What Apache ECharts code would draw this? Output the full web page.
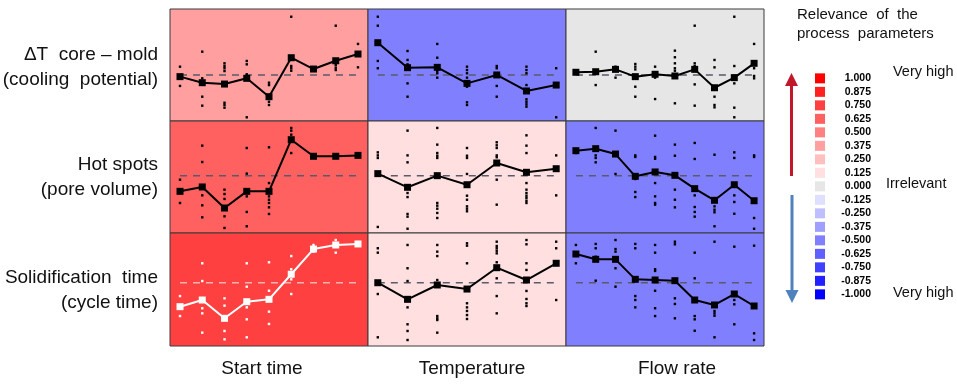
<!DOCTYPE html>
<html><head><meta charset="utf-8">
<script src="https://cdn.jsdelivr.net/npm/echarts@6/dist/echarts.min.js"></script>
<style>html,body{margin:0;padding:0;background:#fff}#c{width:957px;height:384px}</style>
</head><body><div id="c"></div>
<script>
// ---- data ----
const columnNames = ['Start time', 'Temperature', 'Flow rate'];
const rowNames = ['ΔT  core – mold\n(cooling  potential)', 'Hot spots\n(pore volume)', 'Solidification  time\n(cycle time)'];
const relevance = [[0.375, -0.5, 0], [0.625, 0.125, -0.5], [0.75, 0.125, -0.5]];
const rowRef = [41.1, 51.2, 56];
const legendLevels = [1, 0.875, 0.75, 0.625, 0.5, 0.375, 0.25, 0.125, 0, -0.125, -0.25, -0.375, -0.5, -0.625, -0.75, -0.875, -1];

const coolStart = [39.6, 34.2, 33.0, 38.1, 21.7, 56.5, 46.4, 53.8, 59.8];
const coolStartPts = [[48.5,31.3],[61.9,38.1,21.7,13.7],[51.5,49.1,47.1,44.6,16.3,14.3,11.9],[53.6,50.6,41.7,3.3],[34.2,32.1,20.8,17.2,14.3],[93.1,49.1,47.1,44.9],[],[85.1,50,47.6,45.5],[68.8,47.9]];
const coolTemp = [69.9, 47.6, 47.9, 33.6, 41.1, 26.8, 32.1];
const coolTempPts = [[93.1,85.1,53.6,47.1],[62.5,54.5,50.6,33.6,21.7],[68.8,56.5,44.6,42.6,38.7],[48.5,45.5,42.6,38.7,30.6,16.7,14.3],[49.1,47.1,31.3,21.7],[48.5,45.5,42.6,32.1,19.4,17.2,14.9,12.8],[47.1,3.3]];
const coolFlow = [43.5, 44.0, 46.1, 39.6, 41.7, 40.2, 46.1, 29.7, 38.7, 51.5];
const coolFlowPts = [[],[61.9,32.1],[48.5,38.7],[50.9,48.5,46.1,30.6,21.7],[48.5,38.7,19.6],[62.8,56.9,51.5,47.1,44.9,15.8],[85.1,51.5,49.1,32.7,13.7],[54.5,47.9,21.7,14.3,12.2],[93.1,49.1,33.6,11.9,3.3],[68.8,47.1,40.2,38.1]];

const hotStart = [37.2, 41.1, 22.3, 37.2, 37.2, 83.3, 68.5, 68.5, 69.3];
const hotStartPts = [[47.6,26.8],[78,63.4,33.6,24.7,14],[38.7,34.8,30.4,14.9,4.5],[75.9,53,32.7,18.8,6],[76.5,44.6,32.7,29.7,26.8,22.9,17],[93.8,91.4,87.8,71.4],[],[],[]];
const hotTemp = [53, 40.8, 51.2, 43.1, 62.5, 54.2, 57.4];
const hotTempPts = [[72,69.3,67,5.4],[91.4,69.3,63.1,35.7,32.1,17,14.6,3.8],[93.8,78.9,71.4,69,67,26.8,24.4,21.7,17.9,13.4],[75.9,69,67,52.7,33.3,29.7,23.8,21.7,19.4],[81,78.3,75.9,69.3,67.6,47.6,25.3],[87.2,78,71.4,44.6,38.7,35.7,33.3,31.3,28.8,26.8],[69.3,33.6]];
const hotFlow = [73.5, 75.3, 70.5, 50.6, 54.5, 51.5, 39.6, 29.2, 43.1, 28.8];
const hotFlowPts = [[71.4],[93.8,69.3,67,63.1],[91.4,52.7],[69.3,67.9,48.2,36.6,32.1],[86.9,67.9,66.3,44.6,32.7,26.8,25.3],[78.9,69,38.7,29.7,22.9],[80.4,66.1,33.6,23.2,18.8,14.6],[69.9,23.8,20.8,18.5,6],[72,67,33.6,27.7,17.2],[69.3,67.9,13.4,3.8]];

const solidStart = [34.8, 40.7, 24.5, 39.2, 41.3, 63.5, 85.8, 89.4, 90.3];
const solidStartPts = [[44.2,26.5],[73.2,57.5,33.4,28.9,11.8],[42.2,35.7,13.3,5.9],[73.2,52.5,34.2,23.6,7.7],[74.1,48.9,30.4,19.5],[79.6,67.9,59,46],[89.4,83.5],[93.8,82.6],[]];
const solidTemp = [56, 41.3, 54, 50.4, 69.3, 58.4, 73.2];
const solidTempPts = [[86.5,82.6,46,7.7],[89.4,68.8,57.5,34.2,19.2,13.3,5.3],[89.4,83.5,79.6,58.4,26.5,24.5,23,11.8],[90.9,88.8,73.2,37.8,34.2,31,27.4,23.9],[92.3,88.5,86.5,84.3,82,74.1,59.9,44.2,28.9],[93.8,90,73.2,67.3,48.7,41.6,37.8,35.4],[92.3,86.5,40.7]];
const solidFlow = [81.4, 76.7, 76.7, 59, 58.4, 57.8, 40.7, 36.3, 46, 35.4];
const solidFlowPts = [[89.4,73.2],[90.3,86.5,79,57.8],[93.8,85.8,83.5,68.8,52.5],[90.3,86.5,44.2,40.7,34.2],[89.4,82.6,67.9,66.4,48.9,33.4,26.5],[92.3,90,42.2,37.2,24.5],[82.6,59.9,26.5,23.6,13.5],[92.3,31,28.9,26.8,7.7],[87.9,40.7,36.9,19.2],[88.8,11.2,5.3]];

const panelMeans = [[coolStart, coolTemp, coolFlow], [hotStart, hotTemp, hotFlow], [solidStart, solidTemp, solidFlow]];
const panelPts = [[coolStartPts, coolTempPts, coolFlowPts], [hotStartPts, hotTempPts, hotFlowPts], [solidStartPts, solidTempPts, solidFlowPts]];

// ---- layout / style ----
function relColor(v) {
  if (v === 0) return '#e6e6e6';
  const k = Math.round(255 * (1 - Math.abs(v)));
  return v > 0 ? `rgb(255,${k},${k})` : `rgb(${k},${k},255)`;
}
const colLeft = [170, 368, 566], colW = 198;
const rowTop = [9, 121, 233], rowH = [112, 112, 113];
const colPad = [0.45, 0.33, 0.5];
const FONT = '"Liberation Sans", Arial, sans-serif';

const grid = [], xAxis = [], yAxis = [], series = [];
for (let r = 0; r < 3; r++) {
  for (let c = 0; c < 3; c++) {
    const k = grid.length;
    const means = panelMeans[r][c];
    const n = means.length;
    grid.push({left: colLeft[c], top: rowTop[r], width: colW, height: rowH[r], show: true,
      backgroundColor: relColor(relevance[r][c]), borderColor: '#3a3a3a', borderWidth: 1});
    xAxis.push({gridIndex: k, type: 'value', min: -colPad[c], max: n - 1 + colPad[c], show: false});
    yAxis.push({gridIndex: k, type: 'value', min: 0, max: 100, show: false});
    const white = relevance[r][c] >= 0.75;
    const fg = white ? '#ffffff' : '#000000';
    const dots = [];
    panelPts[r][c].forEach((arr, i) => arr.forEach(v => dots.push([i, v])));
    series.push({type: 'line', xAxisIndex: k, yAxisIndex: k, data: [[0, rowRef[r]], [n - 1, rowRef[r]]],
      symbol: 'none', silent: true, z: 1,
      lineStyle: {color: white ? '#f4b4b4' : '#5a5a6a', width: 1.5, type: [7, 6]}});
    series.push({type: 'scatter', xAxisIndex: k, yAxisIndex: k, data: dots, symbol: 'rect', symbolSize: 2.4,
      itemStyle: {color: fg, opacity: 1}, z: 2, silent: true});
    series.push({type: 'line', xAxisIndex: k, yAxisIndex: k, data: means.map((v, i) => [i, v]),
      symbol: 'rect', symbolSize: 7, showSymbol: true, z: 3,
      lineStyle: {color: fg, width: 2}, itemStyle: {color: fg, borderWidth: 0, opacity: 1}});
  }
}
// legend swatches
const lk = grid.length;
grid.push({left: 815, top: 71.6, width: 10, height: 229.5, show: false});
xAxis.push({gridIndex: lk, type: 'value', min: -1, max: 1, show: false});
yAxis.push({gridIndex: lk, type: 'category', inverse: true, data: legendLevels.map(String), show: false});
series.push({type: 'scatter', xAxisIndex: lk, yAxisIndex: lk, symbol: 'rect', symbolSize: 10,
  data: legendLevels.map((v, i) => ({value: [0, i], itemStyle: {color: relColor(v), opacity: 1}})),
  itemStyle: {opacity: 1},
  label: {show: true, position: [56, 5], align: 'right', verticalAlign: 'middle',
    formatter: p => legendLevels[p.dataIndex].toFixed(3),
    fontFamily: FONT, fontWeight: 'bold', fontSize: 10.5, color: '#000'}});

const graphic = [];
const rowLabelY = [67.5, 177.5, 290.5];
rowNames.forEach((t, r) => graphic.push({type: 'text', x: 158, y: rowLabelY[r],
  style: {text: t, font: '19px ' + FONT, fill: '#111', align: 'right', verticalAlign: 'middle', lineHeight: 25}}));
const colLabelX = [262, 472, 677];
columnNames.forEach((t, c) => graphic.push({type: 'text', x: colLabelX[c], y: 369,
  style: {text: t, font: '19px ' + FONT, fill: '#111', align: 'center', verticalAlign: 'middle'}}));
graphic.push({type: 'text', x: 797, y: 24.5, style: {text: 'Relevance  of  the\nprocess  parameters',
  font: '15px ' + FONT, fill: '#111', align: 'left', verticalAlign: 'middle', lineHeight: 19}});
graphic.push({type: 'text', x: 893, y: 72, style: {text: 'Very high', font: '14.5px ' + FONT, fill: '#111', verticalAlign: 'middle'}});
graphic.push({type: 'text', x: 886, y: 184, style: {text: 'Irrelevant', font: '14.5px ' + FONT, fill: '#111', verticalAlign: 'middle'}});
graphic.push({type: 'text', x: 893, y: 293, style: {text: 'Very high', font: '14.5px ' + FONT, fill: '#111', verticalAlign: 'middle'}});
// arrows
graphic.push({type: 'line', shape: {x1: 791.5, y1: 176, x2: 791.5, y2: 84}, style: {stroke: '#c0182a', lineWidth: 3}});
graphic.push({type: 'polygon', shape: {points: [[791.5, 73], [785, 86], [798, 86]]}, style: {fill: '#c0182a'}});
graphic.push({type: 'line', shape: {x1: 792, y1: 195, x2: 792, y2: 293}, style: {stroke: '#4f81bd', lineWidth: 3}});
graphic.push({type: 'polygon', shape: {points: [[792, 303], [785.5, 290], [798.5, 290]]}, style: {fill: '#4f81bd'}});

const chart = echarts.init(document.getElementById('c'), null, {renderer: 'canvas'});
chart.setOption({animation: false, backgroundColor: '#fff', grid, xAxis, yAxis, series, graphic});
</script></body></html>
